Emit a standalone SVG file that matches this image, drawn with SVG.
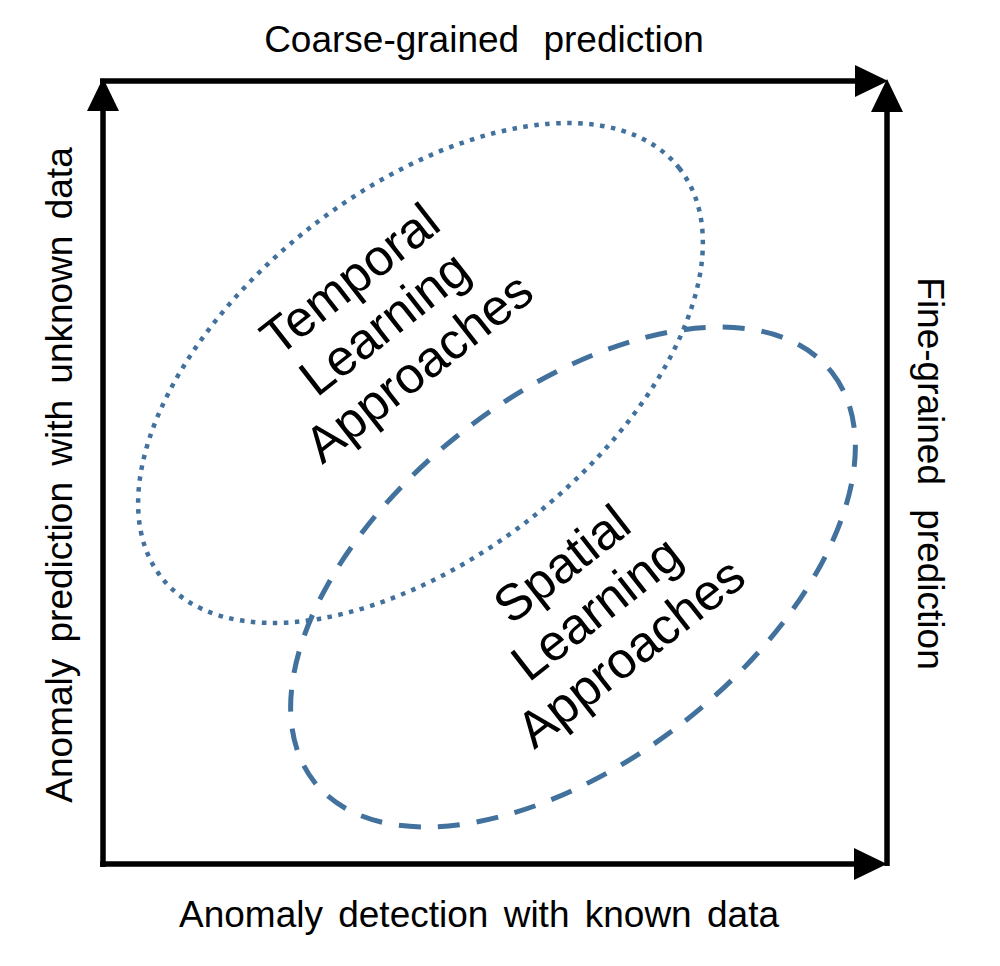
<svg xmlns="http://www.w3.org/2000/svg" width="1000" height="966" viewBox="0 0 1000 966">
<style>
.ax{stroke:#000;stroke-width:5.5;fill:none;marker-end:url(#ah)}
.lbl{font-family:"Liberation Sans",Arial,sans-serif;font-size:37px;fill:#000;text-anchor:middle}
.big{font-family:"Liberation Sans",Arial,sans-serif;font-size:51px;fill:#000;text-anchor:middle}
.ell{fill:none;stroke:#41719c}
</style>
<defs>
<marker id="ah" markerUnits="userSpaceOnUse" markerWidth="36" markerHeight="34" refX="2" refY="16" orient="auto" overflow="visible">
<path d="M0,0 L33,16 L0,32 Z" fill="#000"/>
</marker>
</defs>
<rect width="1000" height="966" fill="#fff"/>
<g id="connectors">
<line class="ax" x1="103" y1="867" x2="103" y2="109"/>
<line class="ax" x1="100" y1="81" x2="857" y2="81"/>
<line class="ax" x1="887" y1="866" x2="887" y2="110"/>
<line class="ax" x1="100" y1="864" x2="856" y2="864"/>
</g>
<g id="temporal">
<ellipse class="ell" cx="420.5" cy="373" rx="330" ry="182.5" transform="rotate(-38.4 420.5 373)" stroke-width="4.5" stroke-dasharray="4.5 6.5"/>
<g transform="translate(395 337) rotate(-38)">
<text class="big" x="0" y="-56">Temporal</text>
<text class="big" x="0" y="0">Learning</text>
<text class="big" x="0" y="56">Approaches</text>
</g>
</g>
<g id="spatial">
<ellipse class="ell" cx="573" cy="577" rx="330" ry="182.5" transform="rotate(-38.4 573 577)" stroke-width="5" stroke-dasharray="22 17"/>
<g transform="translate(607 622) rotate(-38)">
<text class="big" x="0" y="-56">Spatial</text>
<text class="big" x="0" y="0">Learning</text>
<text class="big" x="0" y="56">Approaches</text>
</g>
</g>
<g id="label-top"><text class="lbl" x="484" y="52" word-spacing="14">Coarse-grained prediction</text></g>
<g id="label-bottom"><text class="lbl" x="479" y="927" word-spacing="5">Anomaly detection with known data</text></g>
<g id="label-left"><text class="lbl" transform="translate(72 475) rotate(-90)" x="0" y="0" word-spacing="6">Anomaly prediction with unknown data</text></g>
<g id="label-right"><text class="lbl" transform="translate(918 473.5) rotate(90)" x="0" y="0" word-spacing="14">Fine-grained prediction</text></g>
</svg>
